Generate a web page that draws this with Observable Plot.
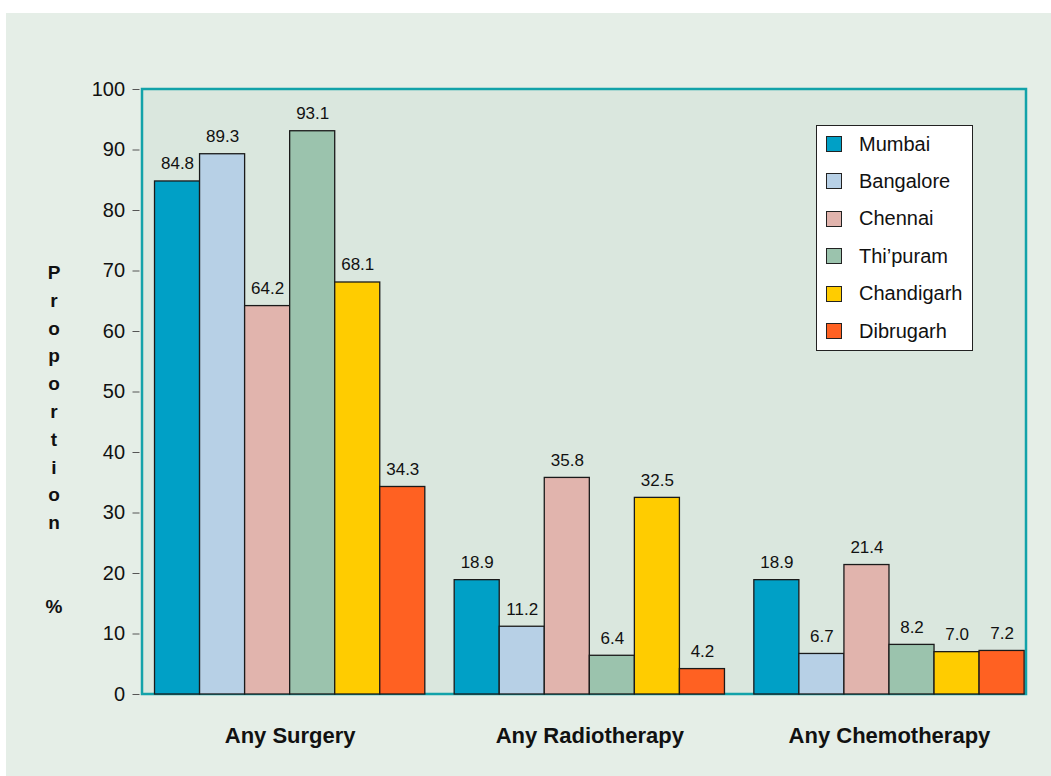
<!DOCTYPE html>
<html><head><meta charset="utf-8">
<script src="https://cdn.jsdelivr.net/npm/d3@7"></script>
<script src="https://cdn.jsdelivr.net/npm/@observablehq/plot@0.6"></script>
<style>
body{margin:0;background:#fff;font-family:"Liberation Sans",Arial,sans-serif;}
#wrap{position:relative;width:1051px;height:776px;overflow:hidden;}
#bg{position:absolute;left:6px;top:13px;width:1045px;height:763px;background:#e5eee7;}
#chart{position:absolute;left:0;top:0;}
#ylabel{position:absolute;left:44px;top:259px;width:20px;text-align:center;font-weight:bold;font-size:19px;line-height:27.8px;color:#111;}
#ypct{position:absolute;left:40px;top:596px;width:28px;text-align:center;font-weight:bold;font-size:19px;color:#111;}
#legend{position:absolute;left:816px;top:125px;width:155px;height:224px;background:#fff;border:1px solid #222;}
.row{position:absolute;left:0;height:24px;display:flex;align-items:center;font-size:20px;color:#111;}
.sw{width:14px;height:14px;border:1px solid #222;margin-left:9px;margin-right:17px;}
</style></head>
<body>
<div id="wrap">
  <div id="bg"></div>
  <div id="chart"></div>
  <div id="ylabel"></div>
  <div id="ypct">%</div>
  <div id="legend"></div>
</div>
<script>
const treatments = ["Any Surgery", "Any Radiotherapy", "Any Chemotherapy"];
const cities = ["Mumbai", "Bangalore", "Chennai", "Thi’puram", "Chandigarh", "Dibrugarh"];
const colors = ["#00a0c6", "#b7d0e6", "#e1b4ad", "#9bc3ad", "#ffcc00", "#ff6122"];
const surgery = [84.8, 89.3, 64.2, 93.1, 68.1, 34.3];
const radiotherapy = [18.9, 11.2, 35.8, 6.4, 32.5, 4.2];
const chemotherapy = [18.9, 6.7, 21.4, 8.2, 7.0, 7.2];
const yTicks = [0, 10, 20, 30, 40, 50, 60, 70, 80, 90, 100];
const yLabel = "Proportion";

const series = [surgery, radiotherapy, chemotherapy];
const data = [];
treatments.forEach((t, i) => cities.forEach((c, j) => data.push({treatment: t, city: c, value: series[i][j]})));

const W = 1051, H = 776, mT = 89, mB = 82, mL = 142, mR = 25;

const chart = Plot.plot({
  width: W, height: H,
  marginTop: mT, marginBottom: mB, marginLeft: mL, marginRight: mR,
  style: {background: "transparent", fontFamily: "Liberation Sans, Arial, sans-serif", fontSize: "20px", color: "#111"},
  fx: {domain: treatments, paddingInner: 0.098, paddingOuter: 0.024, align: 0.87, round: false},
  x: {domain: cities, padding: 0, axis: null, round: false},
  y: {domain: [0, 100], axis: null},
  color: {domain: cities, range: colors},
  marks: [
    Plot.axisY({ticks: yTicks, tickSize: 7, tickPadding: 8, dx: -15, label: null, stroke: "#555", fill: "#111", fontSize: 20}),
    Plot.axisFx({anchor: "bottom", tickSize: 0, tickPadding: 33, label: null, fontSize: 22, fontWeight: "bold", fill: "#111"}),
    Plot.barY(data, {fx: "treatment", x: "city", y: "value", fill: "city", stroke: "#1a1a1a", strokeWidth: 1.3}),
    Plot.text(data, {fx: "treatment", x: "city", y: "value", text: d => d.value.toFixed(1), lineAnchor: "bottom", dy: -12, fontSize: 17, fill: "#111"})
  ]
});
d3.select(chart).insert("rect", ":first-child")
  .attr("x", mL).attr("y", mT).attr("width", W - mL - mR).attr("height", H - mT - mB)
  .attr("fill", "#dae7de").attr("stroke", "#12a2a9").attr("stroke-width", 2.5);
document.getElementById("chart").appendChild(chart);

document.getElementById("ylabel").innerHTML = yLabel.split("").map(ch => `<div>${ch}</div>`).join("");

const legend = document.getElementById("legend");
cities.forEach((c, i) => {
  const row = document.createElement("div");
  row.className = "row";
  row.style.top = (6 + i * 37.4) + "px";
  row.innerHTML = `<div class="sw" style="background:${colors[i]}"></div><span>${c}</span>`;
  legend.appendChild(row);
});
</script>
</body></html>
